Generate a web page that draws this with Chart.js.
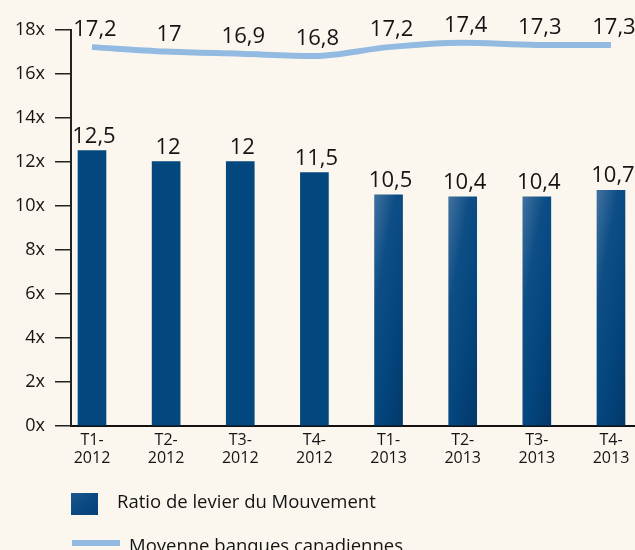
<!DOCTYPE html>
<html><head><meta charset="utf-8">
<script src="https://cdn.jsdelivr.net/npm/chart.js@4"></script>
<style>html,body{margin:0;padding:0;background:#fbf7ee;overflow:hidden}#wrap{width:635px;height:550px}</style>
</head><body><div id="wrap"><canvas id="c" width="635" height="550"></canvas></div>
<script>
const categories = ["T1-2012","T2-2012","T3-2012","T4-2012","T1-2013","T2-2013","T3-2013","T4-2013"];
const leverRatio = [12.5, 12, 12, 11.5, 10.5, 10.4, 10.4, 10.7];
const bankAverage = [17.2, 17, 16.9, 16.8, 17.2, 17.4, 17.3, 17.3];
const yTicks = [0, 2, 4, 6, 8, 10, 12, 14, 16, 18];
const seriesNames = ["Ratio de levier du Mouvement", "Moyenne banques canadiennes"];

const FONT = "'Open Sans', 'Noto Sans', sans-serif";
const TXT = '#141414';
const fmt = v => String(v).replace('.', ',');

function diagGradient(c, left, top, W, H, a, b, stops) {
  const ax = a / W, by = b / H, n = ax * ax + by * by;
  const g = c.createLinearGradient(left, top, left + ax / n, top + by / n);
  stops.forEach(s => g.addColorStop(s[0], s[1]));
  return g;
}

function barFill(ctx) {
  const chart = ctx.chart;
  const i = ctx.dataIndex;
  if (i < 4 || !chart.chartArea || !chart.scales.x) return '#03477f';
  const x = chart.scales.x.getPixelForValue(i);
  const top = chart.scales.y.getPixelForValue(leverRatio[i]);
  const bottom = chart.scales.y.getPixelForValue(0);
  return diagGradient(chart.ctx, x - 14, top, 28, bottom - top, 0.4, 0.6,
    [[0, '#41719e'], [0.3, '#0e4e86'], [0.65, '#03457c'], [1, '#03386a']]);
}

const labelPlugin = {
  id: 'labels',
  afterDatasetsDraw(chart) {
    const c = chart.ctx;
    c.save();
    c.fillStyle = TXT;
    c.font = "22px " + FONT;
    c.textAlign = 'center';
    c.textBaseline = 'alphabetic';
    chart.getDatasetMeta(0).data.forEach((el, i) => {
      c.fillText(fmt(leverRatio[i]), el.x + 2, el.y - 8);
    });
    chart.getDatasetMeta(1).data.forEach((el, i) => {
      c.fillText(fmt(bankAverage[i]), el.x + 3, el.y - 11);
    });
    // legend
    c.fillStyle = diagGradient(c, 71, 493, 27, 22, 0.5, 0.5,
      [[0, '#1f568c'], [0.5, '#0a4a82'], [1, '#063f74']]);
    c.fillRect(71, 493, 27, 22);
    c.fillStyle = '#93bbe2';
    c.fillRect(72, 540, 48, 6);
    c.fillStyle = TXT;
    c.font = "18.5px " + FONT;
    c.textAlign = 'left';
    c.textBaseline = 'middle';
    c.fillText(seriesNames[0], 117, 503);
    c.fillText(seriesNames[1], 129, 547);
    c.restore();
  }
};

new Chart(document.getElementById('c'), {
  data: {
    datasets: [
      {
        type: 'bar', label: seriesNames[0],
        data: leverRatio.map((v, i) => ({x: i, y: v})),
        backgroundColor: barFill, borderWidth: 0, barThickness: 28, order: 2
      },
      {
        type: 'line', label: seriesNames[1],
        data: bankAverage.map((v, i) => ({x: i, y: v})),
        borderColor: '#93bbe2', borderWidth: 6, pointRadius: 0, tension: 0.4,
        cubicInterpolationMode: 'monotone', fill: false, order: 1
      }
    ]
  },
  options: {
    responsive: false, animation: false,
    layout: {padding: {top: 29.5, right: 0, left: 0, bottom: 0}},
    plugins: {legend: {display: false}, tooltip: {enabled: false}},
    scales: {
      x: {
        type: 'linear', min: -0.283, max: 7.324, offset: false,
        afterFit: s => { s.height = 124; },
        afterBuildTicks: s => { s.ticks = categories.map((_, i) => ({value: i})); },
        grid: {display: false, drawTicks: false, offset: false},
        border: {display: true, color: '#111', width: 2},
        ticks: {
          color: TXT, font: {family: FONT, size: 16, lineHeight: 1.15}, padding: 5,
          maxRotation: 0, autoSkip: false,
          callback: v => { const l = categories[v]; if (!l) return ''; const p = l.split('-'); return [p[0] + '-', p[1]]; }
        }
      },
      y: {
        min: 0, max: 18,
        afterFit: s => { s.width = 71; },
        afterBuildTicks: s => { s.ticks = yTicks.map(v => ({value: v})); },
        grid: {drawOnChartArea: false, drawTicks: true, tickLength: 16, color: '#222', lineWidth: 1.5},
        border: {display: true, color: '#222', width: 2},
        ticks: {color: TXT, font: {family: FONT, size: 18}, padding: 10, callback: v => v + 'x'}
      }
    }
  },
  plugins: [labelPlugin]
});
</script></body></html>
